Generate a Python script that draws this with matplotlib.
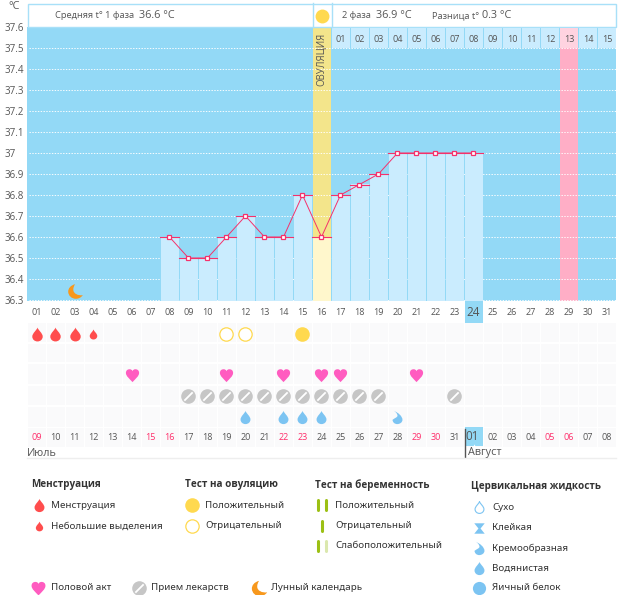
import matplotlib
matplotlib.use('Agg')
import matplotlib.pyplot as plt
from matplotlib.patches import Rectangle
from matplotlib.path import Path

# ---------- data ----------
temp_days = [8, 9, 10, 11, 12, 13, 14, 15, 16, 17, 18, 19, 20, 21, 22, 23, 24]
temps = [36.6, 36.5, 36.5, 36.6, 36.7, 36.6, 36.6, 36.8, 36.6, 36.8, 36.85, 36.9, 37, 37, 37, 37, 37]
y_ticks = [37.6, 37.5, 37.4, 37.3, 37.2, 37.1, 37, 36.9, 36.8, 36.7, 36.6, 36.5, 36.4, 36.3]
y_labels = ['37.6', '37.5', '37.4', '37.3', '37.2', '37.1', '37', '36.9', '36.8', '36.7', '36.6', '36.5', '36.4', '36.3']
cycle_days = ['%02d' % d for d in range(1, 32)]
dates = ['09', '10', '11', '12', '13', '14', '15', '16', '17', '18', '19', '20', '21', '22', '23', '24',
         '25', '26', '27', '28', '29', '30', '31', '01', '02', '03', '04', '05', '06', '07', '08']
red_dates = [1, 7, 8, 14, 15, 21, 22, 28, 29]
phase2_days = ['01', '02', '03', '04', '05', '06', '07', '08', '09', '10', '11', '12', '13', '14', '15']
ovulation_day = 16
fertile_peak_day = 29
today = 24
moon_day = 3
moon_temp = 36.345
menses = [1, 2, 3]
spotting = [4]
ov_negative = [11, 12]
ov_positive = [15]
sex_days = [6, 11, 14, 16, 17, 21]
pill_days = [9, 10, 11, 12, 13, 14, 15, 16, 17, 18, 19, 23]
watery = [12, 14, 15, 16]
creamy = [20]

# ---------- colours ----------
SKY = '#93d9f6'; BAR = '#caecfe'; CRIM = '#f5316b'; YEL = '#f3e58b'; PALEY = '#fff7cc'
PINK = '#ffaec6'; PALEP = '#ffd3e0'; TXT = '#555555'; DARK = '#333333'; RED = '#ff4d4d'
SUN = '#ffd94f'; HEART = '#ff5cc0'; GREY = '#c6c6c6'; DROP = '#7cc4f2'; GREEN = '#9cc014'
ORANGE = '#f7981d'; RDATE = '#ff2d6a'
NUM = 'Open Sans'

# ---------- marker shapes ----------
C3, C4, L, M, Z = Path.CURVE3, Path.CURVE4, Path.LINETO, Path.MOVETO, Path.CLOSEPOLY
drop = Path([(0, 1), (0.12, 0.6), (0.75, 0.2), (0.75, -0.3), (0.75, -0.72), (0.4, -1), (0, -1),
             (-0.4, -1), (-0.75, -0.72), (-0.75, -0.3), (-0.75, 0.2), (-0.12, 0.6), (0, 1), (0, 1)],
            [M, C4, C4, C4, C4, C4, C4, C4, C4, C4, C4, C4, C4, Z])
heart = Path([(0, -1), (-0.5, -0.45), (-1, -0.1), (-1, 0.4), (-1, 0.8), (-0.7, 0.95), (-0.45, 0.95),
              (-0.2, 0.95), (0, 0.8), (0, 0.6), (0, 0.8), (0.2, 0.95), (0.45, 0.95),
              (0.7, 0.95), (1, 0.8), (1, 0.4), (1, -0.1), (0.5, -0.45), (0, -1), (0, -1)],
             [M, C4, C4, C4, C4, C4, C4, C4, C4, C4, C4, C4, C4, C4, C4, C4, C4, C4, C4, Z])
moon = Path([(-0.05, 1), (-0.7, 0.85), (-1, 0.4), (-1, 0), (-1, -0.6), (-0.5, -1), (0.05, -1),
             (0.45, -1), (0.8, -0.8), (1, -0.5), (0.35, -0.6), (-0.3, -0.3), (-0.3, 0.25),
             (-0.3, 0.55), (-0.2, 0.8), (-0.05, 1), (-0.05, 1)],
            [M, C4, C4, C4, C4, C4, C4, C4, C4, C4, C4, C4, C4, C4, C4, C4, Z])
cream = Path([(-0.55, 1), (0.1, 0.75), (0.75, 0.2), (0.75, -0.35), (0.75, -0.75), (0.35, -1), (-0.05, -1),
              (-0.45, -1), (-0.75, -0.7), (-0.75, -0.35), (-0.45, -0.1), (-0.05, 0), (0, 0.25),
              (0, 0.55), (-0.25, 0.85), (-0.55, 1), (-0.55, 1)],
             [M, C4, C4, C4, C4, C4, C4, C4, C4, C4, C4, C4, C4, C4, C4, C4, Z])
slash = Path([(-0.6, -0.6), (0.6, 0.6)], [M, L])
hourglass = Path([(-1, 1), (1, 1), (0.2, 0), (1, -1), (-1, -1), (-0.2, 0), (-1, 1)], [M, L, L, L, L, L, Z])

fig = plt.figure(figsize=(6.26, 5.95), dpi=100, facecolor='white')
W, H = 626.0, 595.0


def box(x0, y0, x1, y1):
    return [x0 / W, 1 - y1 / H, (x1 - x0) / W, (y1 - y0) / H]


ov = fig.add_axes([0, 0, 1, 1], zorder=3)
ov.set_xlim(0, W); ov.set_ylim(H, 0); ov.axis('off'); ov.patch.set_alpha(0)

# ---------- temperature chart ----------
ax = fig.add_axes(box(27, 27, 616, 301), zorder=1)
ax.set_xlim(0, 31)
ax.set_ylim(36.3 - 0.1 / 21, 37.6)
ax.set_facecolor(SKY)
for s in ax.spines.values():
    s.set_visible(False)
ax.set_xticks([]); ax.set_yticks([])
gap = 1 / 19
ax.bar(fertile_peak_day - 1 + gap, 2, bottom=36, width=18 / 19, align='edge', color=PINK, zorder=1, lw=0)
ax.bar(ovulation_day - 1 + gap, 2, bottom=36, width=18 / 19, align='edge', color=YEL, zorder=1, lw=0)
for v in y_ticks[1:]:
    ax.plot([0.1, 31], [v, v], color='white', lw=0.72, ls=(0, (1.4, 1.4)), zorder=2, alpha=0.9)
for d, t in zip(temp_days, temps):
    c = PALEY if d == ovulation_day else BAR
    ax.bar(d - 1 + gap, t - 36, bottom=36, width=18 / 19, align='edge', color=c, lw=0, zorder=3)
    ax.plot([d - 1, d], [t, t], color=CRIM, lw=0.8, zorder=4)
for i, v in enumerate(y_ticks):
    ax.annotate(y_labels[i], xy=(0, v), xycoords=ax.get_yaxis_transform(), xytext=(-22 * .72, -1.5 * .72),
                textcoords='offset points', ha='left', va='center', fontsize=7.0, color=TXT,
                family=NUM, annotation_clip=False)
ax.plot([d - 0.5 for d in temp_days], temps, color=CRIM, lw=0.7, zorder=5, marker='s', ms=3.4,
        mfc='white', mec=CRIM, mew=0.9)
ax.plot([moon_day - 0.5], [moon_temp], marker=moon, ms=10.5, color=ORANGE, mew=0, zorder=5, ls='none')
ax.text(ovulation_day - 0.5, 37.575, 'ОВУЛЯЦИЯ', rotation=90, ha='center', va='top', fontsize=6.9,
        color=TXT, family=NUM, zorder=6)

# ---------- header ----------
ov.add_patch(Rectangle((27.5, 3.5), 588, 23.5, fc='white', ec='#a8e0f8', lw=1))
ov.plot([312.5, 312.5], [3, 27], color='#a8e0f8', lw=1)
ov.plot([331.5, 331.5], [3, 27], color='#a8e0f8', lw=1)
ov.plot([322], [16], marker='o', ms=10, color=SUN, mew=0)
ov.text(55, 16, 'Средняя t° 1 фаза', fontsize=6.7, color=TXT, va='center', family=NUM)
ov.text(139, 15.5, '36.6 °C', fontsize=7.8, color=TXT, va='center', family=NUM)
ov.text(342, 16, '2 фаза', fontsize=6.7, color=TXT, va='center', family=NUM)
ov.text(376, 15.5, '36.9 °C', fontsize=7.8, color=TXT, va='center', family=NUM)
ov.text(432.5, 16, 'Разница t°', fontsize=6.7, color=TXT, va='center', family=NUM)
ov.text(482, 15.5, '0.3 °C', fontsize=7.8, color=TXT, va='center', family=NUM)
ov.text(8, 6.5, '°C', fontsize=7.8, color=TXT, va='center', family=NUM)
for i, lab in enumerate(phase2_days):
    x0 = 332 + i * 19
    ov.add_patch(Rectangle((x0, 28), 18, 20, fc=PALEP if lab == '13' else BAR, ec='none'))
    ov.text(x0 + 9, 39, lab, fontsize=6.5, color=TXT, ha='center', va='center', family=NUM)

# ---------- cycle day row ----------
ov.add_patch(Rectangle((27 + (today - 1) * 19 + 1, 301), 18, 22, fc=SKY, ec='none'))
for i, lab in enumerate(cycle_days):
    big = i + 1 == today
    ov.text(36.5 + i * 19, 312.5, lab, fontsize=8.4 if big else 6.5, color=TXT, ha='center', va='center', family=NUM)

# ---------- lower icon table ----------
lo = fig.add_axes(box(27, 323, 616, 447), zorder=2)
lo.set_xlim(0, 31); lo.set_ylim(447, 323); lo.axis('off')
row_tops = [323, 344, 364, 386, 407, 428]
row_bots = [342, 362, 384, 405, 427, 447]
for d in range(31):
    for t, b in zip(row_tops, row_bots):
        lo.add_patch(Rectangle((d + gap, t), 18 / 19, b - t, fc='#fafafb', ec='none', zorder=1))
rows = [334, 354, 375, 396, 417]


def mark(days, y, m, size, **kw):
    kw.setdefault('mew', 0)
    lo.plot([d - 0.5 for d in days], [y] * len(days), ls='none', marker=m, ms=size, zorder=3, **kw)


mark(menses, rows[0], drop, 10, color=RED)
mark(spotting, rows[0], drop, 7.2, color=RED)
mark(ov_negative, rows[0], 'o', 9.6, mfc='white', mec=SUN, mew=0.9)
mark(ov_positive, rows[0], 'o', 10.5, color=SUN)
mark(sex_days, rows[2], heart, 9.5, color=HEART)
mark(pill_days, rows[3], 'o', 10.5, color=GREY)
mark(pill_days, rows[3], slash, 6, color='white', mew=1.3, mfc='none')
mark(watery, rows[4], drop, 9.5, color=DROP)
mark(creamy, rows[4], cream, 9.5, color=DROP)

for i, lab in enumerate(dates):
    col = RDATE if i + 1 in red_dates else TXT
    big = i == 23
    if big:
        ov.add_patch(Rectangle((465, 427), 18, 19, fc=SKY, ec='none'))
        ov.plot([474], [446], marker='^', ms=3, color='white', mew=0)
    ov.text(36.5 + i * 19 - (1 if big else 0), 436.5 if big else 437.5, lab, fontsize=8.4 if big else 6.5,
            color=col, ha='center', va='center', family=NUM)
ov.plot([464.5, 464.5], [429, 457], color='#555555', lw=1)
ov.plot([27, 616], [458, 458], color='#eeeeee', lw=1)
ov.text(27, 453, 'Июль', fontsize=7.8, color=TXT, va='center', family=NUM)
ov.text(468, 453, 'Август', fontsize=7.8, color=TXT, va='center', family=NUM)

# ---------- legend ----------
F = 'Noto Sans'


def title(x, y, s):
    ov.text(x, y, s, fontsize=7.15, fontweight='bold', color=DARK, family='Open Sans', va='center')


def entry(x, y, s):
    ov.text(x, y, s, fontsize=7.0, color=DARK, family=F, va='center')


def icon(x, y, m, size, **kw):
    kw.setdefault('mew', 0)
    ov.plot([x], [y], marker=m, ms=size, ls='none', **kw)


title(31, 485, 'Менструация')
icon(38.5, 505, drop, 9.5, color=RED); entry(51, 505, 'Менструация')
icon(38.5, 526, drop, 7, color=RED); entry(51, 526, 'Небольшие выделения')

title(185, 485, 'Тест на овуляцию')
icon(192, 505, 'o', 10.5, color=SUN); entry(205, 505, 'Положительный')
icon(192, 526, 'o', 9.6, mfc='white', mec=SUN, mew=0.9); entry(205, 526, 'Отрицательный')

title(315, 485, 'Тест на беременность')
for x, y, c in [(318, 505, GREEN), (326, 505, GREEN), (322, 526, GREEN), (318, 546, GREEN), (326, 546, '#dbe8ae')]:
    ov.plot([x, x], [y - 5, y + 5], color=c, lw=2.2, solid_capstyle='round')
entry(335, 505, 'Положительный'); entry(335, 526, 'Отрицательный'); entry(335, 546, 'Слабоположительный')

title(471, 486, 'Цервикальная жидкость')
icon(479, 507, drop, 8.5, mfc='white', mec=DROP, mew=0.8); entry(492, 507, 'Сухо')
icon(479, 528, hourglass, 7.5, color=DROP); entry(492, 528, 'Клейкая')
icon(479, 548, cream, 9.5, color=DROP); entry(492, 548, 'Кремообразная')
icon(479, 568, drop, 9.5, color=DROP); entry(492, 568, 'Водянистая')
icon(479, 588, 'o', 9.5, color=DROP); entry(492, 588, 'Яичный белок')

icon(38, 588, heart, 10, color=HEART); entry(51, 588, 'Половой акт')
icon(139, 588, 'o', 10.5, color=GREY); icon(139, 588, slash, 6, color='white', mew=1.3)
entry(151, 588, 'Прием лекарств')
icon(258.5, 588, moon, 11, color=ORANGE); entry(271, 588, 'Лунный календарь')

fig.savefig('out.png', dpi=100, facecolor='white')
